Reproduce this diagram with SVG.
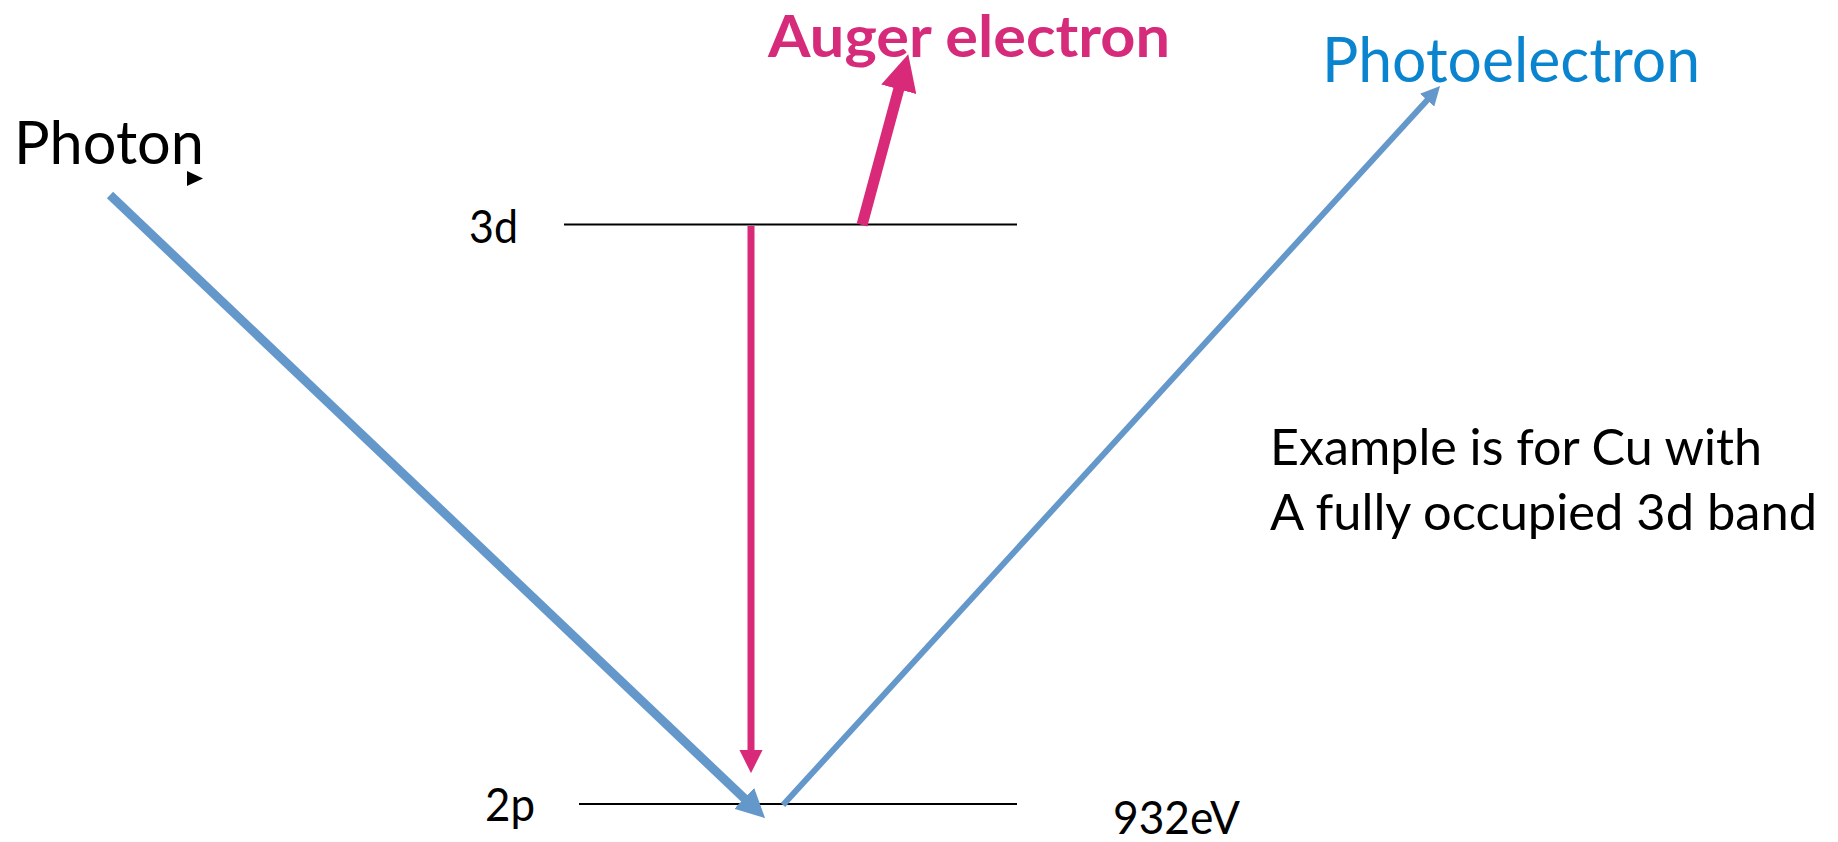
<svg xmlns="http://www.w3.org/2000/svg" width="1838" height="842" viewBox="0 0 1838 842">
<style>
text{font-family:Lato,"Open Sans","Liberation Sans",sans-serif;fill:#000}
.lvl{stroke:#000;stroke-width:2;fill:none}
.blue{stroke:#6498CB;fill:none;stroke-linecap:butt}
.pink{stroke:#D92A7A;fill:none;stroke-linecap:butt}
</style>
<defs>
<marker id="hb" viewBox="0 0 10 10" refX="3" refY="5" markerWidth="3.2" markerHeight="3.2" markerUnits="strokeWidth" orient="auto">
<path d="M0,0 L10,5 L0,10 z" fill="#6498CB"/>
</marker>
<marker id="hp" viewBox="0 0 10 10" refX="3" refY="5" markerWidth="3.3" markerHeight="3.3" markerUnits="strokeWidth" orient="auto">
<path d="M0,0 L10,5 L0,10 z" fill="#D92A7A"/>
</marker>
</defs>
<rect width="1838" height="842" fill="#fff"/>
<g id="level-3d">
<line class="lvl" x1="564" y1="224.5" x2="1017" y2="224.5"/>
<text x="469" y="243" font-size="47" textLength="49" lengthAdjust="spacingAndGlyphs">3d</text>
</g>
<g id="level-2p">
<line class="lvl" x1="579" y1="804" x2="1017" y2="804"/>
<text x="485" y="821" font-size="47" textLength="50" lengthAdjust="spacingAndGlyphs">2p</text>
<text x="1113" y="834" font-size="46" textLength="127" lengthAdjust="spacingAndGlyphs">932eV</text>
</g>
<g id="photon">
<text x="14" y="164" font-size="60" textLength="190" lengthAdjust="spacingAndGlyphs">Photon</text>
<path d="M187,171 L203,178.5 L187,186 z" fill="#000"/>
</g>
<g id="auger-label">
<text x="768" y="57" font-size="57" font-weight="bold" style="fill:#D62B7B" textLength="402" lengthAdjust="spacingAndGlyphs">Auger electron</text>
</g>
<g id="photoelectron-label">
<text x="1322" y="82" font-size="61" style="fill:#0A84CE" textLength="378" lengthAdjust="spacingAndGlyphs">Photoelectron</text>
</g>
<g id="note">
<text x="1270" y="465" font-size="51" textLength="492" lengthAdjust="spacingAndGlyphs">Example is for Cu with</text>
<text x="1270" y="530" font-size="51" textLength="547" lengthAdjust="spacingAndGlyphs">A fully occupied 3d band</text>
</g>
<g id="connectors">
<line class="blue" x1="110" y1="195" x2="750.5" y2="804.3" stroke-width="9" marker-end="url(#hb)"/>
<line class="blue" x1="783" y1="805" x2="1431" y2="95.9" stroke-width="6" marker-end="url(#hb)"/>
<line class="pink" x1="751" y1="226" x2="751" y2="757" stroke-width="7" marker-end="url(#hp)"/>
<line class="pink" x1="862" y1="225" x2="901.6" y2="78.8" stroke-width="11" marker-end="url(#hp)"/>
</g>
</svg>
